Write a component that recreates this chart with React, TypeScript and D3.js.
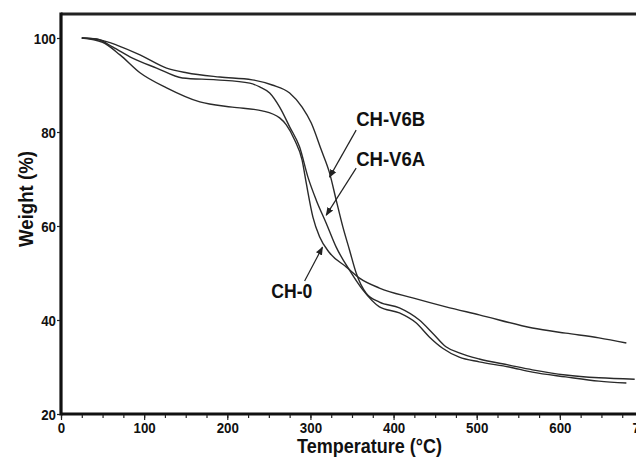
import React, { useEffect, useRef } from 'react';
import * as d3 from 'd3';

// TGA curves (temperature in °C, weight in %)
const v6bTemp = [25, 47, 67, 95, 127, 151, 191, 230, 254, 275, 290, 301, 313, 323, 331, 339, 347, 355, 367, 383, 407, 431, 447, 463, 479, 503, 539, 567, 607, 647, 690];
const v6bWeight = [100, 99.6, 98.5, 96.4, 93.6, 92.6, 91.7, 91.1, 90.0, 88.3, 85.3, 81.9, 76.2, 71.3, 65.5, 59.8, 54.9, 50.0, 45.7, 43.8, 42.6, 40.0, 37.2, 34.3, 33.0, 31.7, 30.4, 29.4, 28.3, 27.7, 27.4];

const v6aTemp = [25, 43, 62, 86, 115, 146, 187, 227, 239, 251, 263, 275, 287, 297, 307, 319, 331, 347, 363, 383, 407, 427, 443, 459, 479, 503, 539, 567, 607, 647, 680];
const v6aWeight = [100, 99.8, 98.1, 95.7, 93.6, 91.5, 91.1, 90.4, 89.6, 88.3, 85.3, 81.1, 76.8, 70.4, 65.5, 60.6, 55.5, 50.6, 46.4, 42.8, 41.5, 39.4, 36.4, 34.0, 32.1, 31.1, 30.0, 28.9, 27.9, 27.0, 26.6];

const ch0Temp = [25, 50, 71, 95, 127, 167, 206, 242, 263, 271, 281, 290, 295, 303, 311, 323, 343, 359, 383, 423, 463, 503, 567, 607, 647, 680];
const ch0Weight = [100, 99.1, 96.4, 92.6, 89.4, 86.4, 85.3, 84.5, 83.0, 81.5, 78.3, 74.0, 69.1, 61.9, 57.7, 54.3, 51.3, 48.9, 46.8, 44.7, 42.8, 41.1, 38.3, 37.2, 36.2, 35.1];

const xTicks = [0, 100, 200, 300, 400, 500, 600, 700];
const yTicks = [20, 40, 60, 80, 100];

// annotations in data units: label position, arrow tail, arrow head
const labels = ['CH-V6B', 'CH-V6A', 'CH-0'];
const labelWidths = [69, 69, 41];
const labelAt = [[355, 81.3], [355, 72.8], [253, 44.7]];
const arrowFrom = [[355, 80.4], [355, 72.3], [293, 48.3]];
const arrowTo = [[323, 70.4], [319, 62.3], [314.5, 55.5]];

const W = 636;
const H = 457;
const FONT = "'Liberation Sans', Arial, sans-serif";

const App = () => {
  const xAxisRef = useRef<SVGGElement>(null);
  const xMinorRef = useRef<SVGGElement>(null);
  const yAxisRef = useRef<SVGGElement>(null);

  const x = d3.scaleLinear().domain([0, 700]).range([61, 643]);
  const y = d3.scaleLinear().domain([20, 100]).range([414, 38]);
  const yTop = y(105.1);

  const line = d3.line<[number, number]>()
    .x((d) => x(d[0]))
    .y((d) => y(d[1]))
    .curve(d3.curveMonotoneX);

  const series = [
    v6bTemp.map((t, i) => [t, v6bWeight[i]] as [number, number]),
    v6aTemp.map((t, i) => [t, v6aWeight[i]] as [number, number]),
    ch0Temp.map((t, i) => [t, ch0Weight[i]] as [number, number]),
  ];

  useEffect(() => {
    const xa = d3.axisBottom(x).tickValues(xTicks).tickSize(5).tickSizeOuter(0).tickPadding(3);
    const xm = d3.axisBottom(x).tickValues(d3.range(0, 701, 25)).tickSize(3).tickFormat(() => '').tickSizeOuter(0);
    const ya = d3.axisLeft(y).tickValues(yTicks).tickSize(3).tickSizeOuter(0).tickPadding(1);

    const style = (g: d3.Selection<SVGGElement, unknown, null, undefined>) => {
      g.select('.domain').remove();
      g.selectAll('line').attr('stroke', '#222').attr('stroke-width', 1.2);
      g.selectAll('text')
        .attr('fill', '#111')
        .attr('font-family', FONT)
        .attr('font-weight', 'bold')
        .attr('font-size', 14)
        .attr('textLength', (d: any) => String(d).length * 7.4)
        .attr('lengthAdjust', 'spacingAndGlyphs');
    };

    d3.select(xMinorRef.current!).call(xm).call(style);
    d3.select(xAxisRef.current!).call(xa).call(style);
    d3.select(yAxisRef.current!).call(ya).call(style);
    d3.select(yAxisRef.current!).selectAll('text').attr('dy', '0.36em');
  }, []);

  return (
    <svg width={W} height={H} style={{ position: 'absolute', left: 0, top: 0, background: '#fff' }}>
      <defs>
        <marker id="head" viewBox="0 0 10 10" refX="9" refY="5" markerWidth="7" markerHeight="7" orient="auto">
          <path d="M0,1 L10,5 L0,9 Z" fill="#222" />
        </marker>
      </defs>

      {/* frame */}
      <line x1={x(0)} x2={W} y1={yTop} y2={yTop} stroke="#222" strokeWidth={3} />
      <line x1={x(0)} x2={x(0)} y1={yTop - 1.5} y2={y(20) + 1.5} stroke="#111" strokeWidth={3.2} />
      <line x1={x(0)} x2={W} y1={y(20)} y2={y(20)} stroke="#111" strokeWidth={3.2} />

      <g ref={xMinorRef} transform={`translate(0, ${y(20) + 1})`} />
      <g ref={xAxisRef} transform={`translate(0, ${y(20) + 1})`} />
      <g ref={yAxisRef} transform={`translate(${x(0) - 1}, 0)`} />

      {series.map((s, i) => (
        <path key={i} d={line(s) ?? ''} fill="none" stroke="#2a2a2a" strokeWidth={1.4} />
      ))}

      {labels.map((lab, i) => (
        <g key={lab}>
          <line
            x1={x(arrowFrom[i][0])} y1={y(arrowFrom[i][1])}
            x2={x(arrowTo[i][0])} y2={y(arrowTo[i][1])}
            stroke="#222" strokeWidth={1.2} markerEnd="url(#head)"
          />
          <text
            x={x(labelAt[i][0])} y={y(labelAt[i][1])}
            fontFamily={FONT} fontWeight="bold" fontSize={21} fill="#111"
            textLength={labelWidths[i]} lengthAdjust="spacingAndGlyphs"
          >
            {lab}
          </text>
        </g>
      ))}

      <text
        x={297} y={453} fontFamily={FONT} fontWeight="bold" fontSize={20} fill="#111"
        textLength={145} lengthAdjust="spacingAndGlyphs"
      >
        Temperature (°C)
      </text>
      <text
        transform={`translate(33, 247) rotate(-90)`} fontFamily={FONT} fontWeight="bold" fontSize={20} fill="#111"
        textLength={96} lengthAdjust="spacingAndGlyphs"
      >
        Weight (%)
      </text>
    </svg>
  );
};

export default App;
